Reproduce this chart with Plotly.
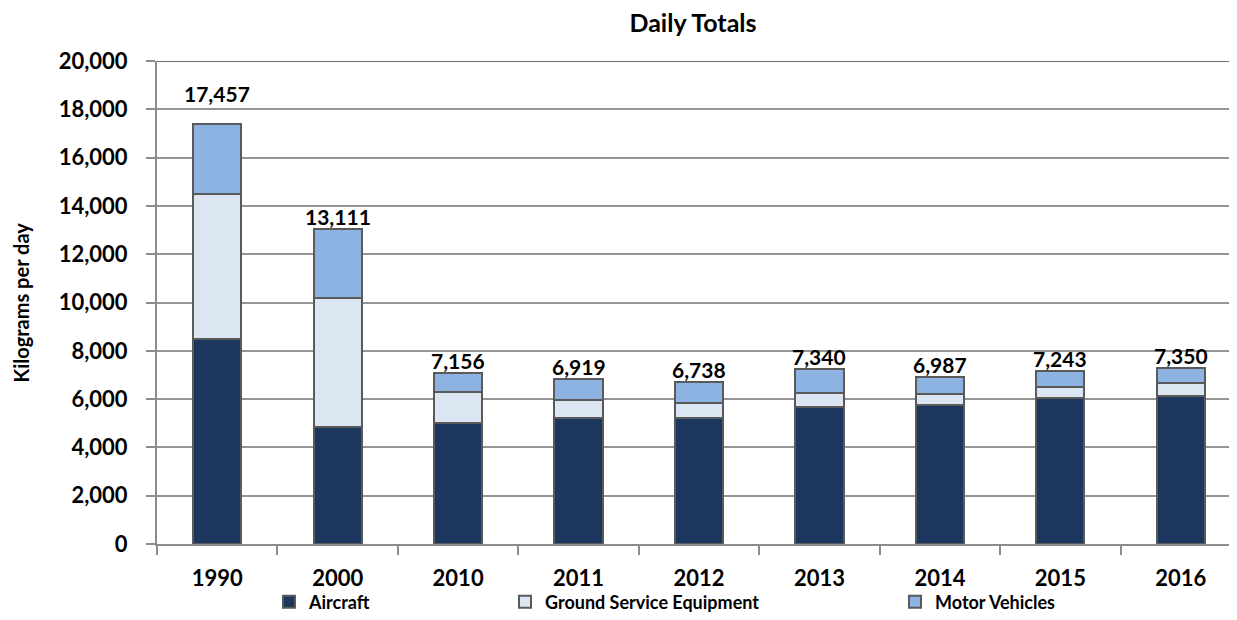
import plotly.graph_objects as go

years = ["1990", "2000", "2010", "2011", "2012", "2013", "2014", "2015", "2016"]
aircraft = [8480, 4830, 5030, 5230, 5210, 5680, 5740, 6040, 6120]
ground_service = [6000, 5350, 1250, 720, 640, 570, 480, 460, 530]
motor_vehicles = [2920, 2880, 820, 890, 840, 1000, 690, 660, 620]
totals = [17457, 13111, 7156, 6919, 6738, 7340, 6987, 7243, 7350]
y_ticks = [0, 2000, 4000, 6000, 8000, 10000, 12000, 14000, 16000, 18000, 20000]

FONT = "Lato"
# page body has an 8px margin on every side; figure sized to fit the 1237x620 window
W, H = 1221, 604
L, R, T, B = 149, 0, 53, 68

fig = go.Figure()
series = [
    ("Aircraft", aircraft, "#1b375e", "legend"),
    ("Ground Service Equipment", ground_service, "#dce6f2", "legend2"),
    ("Motor Vehicles", motor_vehicles, "#8db3e2", "legend3"),
]
for name, vals, color, lg in series:
    fig.add_trace(go.Bar(
        x=years, y=vals, name=name, legend=lg, showlegend=True,
        marker=dict(color=color, line=dict(color="#5a5a5a", width=2)),
        width=0.4,
    ))

stack_tops = [a + g + m for a, g, m in zip(aircraft, ground_service, motor_vehicles)]
for i, (top, tot) in enumerate(zip(stack_tops, totals)):
    fig.add_annotation(
        x=i, y=top, text=f"{tot:,}", showarrow=False,
        yanchor="bottom", xanchor="center",
        yshift=16 if i == 0 else -2,
        font=dict(family=FONT, size=21, color="black", weight="bold"),
    )

fig.add_annotation(
    text="Kilograms per day", textangle=-90, showarrow=False,
    xref="paper", yref="paper", x=(12 - L) / (W - L - R), y=0.5,
    xanchor="center", yanchor="middle",
    font=dict(family=FONT, size=20, color="black", weight="bold"),
)

fig.add_shape(type="line", xref="paper", yref="y", x0=0, x1=1, y0=20000, y1=20000,
              line=dict(color="#6e6e6e", width=2))

leg_common = dict(orientation="h", xref="container", yref="container",
                  yanchor="middle", xanchor="left", bgcolor="rgba(0,0,0,0)",
                  font=dict(family=FONT, size=18, color="black", weight="bold"),
                  itemclick=False, itemdoubleclick=False)
LEG_Y = 1 - 594 / H
fig.update_layout(
    width=W, height=H,
    margin=dict(l=L, r=R, t=T, b=B, autoexpand=False),
    plot_bgcolor="white", paper_bgcolor="white",
    barmode="stack",
    title=dict(text="<b>Daily Totals</b>", x=0.5, xref="paper", xanchor="center",
               y=1 - 15 / H, yref="container", yanchor="middle",
               font=dict(family=FONT, size=25, color="black")),
    font=dict(family=FONT, color="black"),
    legend=dict(x=(269 - 8) / W, y=LEG_Y, **leg_common),
    legend2=dict(x=(505 - 8) / W, y=LEG_Y, **leg_common),
    legend3=dict(x=(895 - 8) / W, y=LEG_Y, **leg_common),
    xaxis=dict(
        type="category", range=[-0.5, 8.40], automargin=False,
        showline=True, linecolor="#8c8c8c", linewidth=2,
        ticks="outside", tickson="boundaries", ticklen=9, tickcolor="#8c8c8c", tickwidth=2,
        tickfont=dict(family=FONT, size=22, color="black", weight="bold"),
        ticklabelstandoff=14,
        showgrid=False,
    ),
    yaxis=dict(
        range=[0, 20000], tickvals=y_ticks, tickformat=",d", automargin=False,
        showline=True, linecolor="#8c8c8c", linewidth=2,
        ticks="outside", ticklen=9, tickcolor="#8c8c8c", tickwidth=2,
        tickfont=dict(family=FONT, size=22, color="black", weight="bold"),
        ticklabelstandoff=14,
        showgrid=True, gridcolor="#959595", gridwidth=2,
        zeroline=False,
    ),
)

fig.write_html("out.html")
